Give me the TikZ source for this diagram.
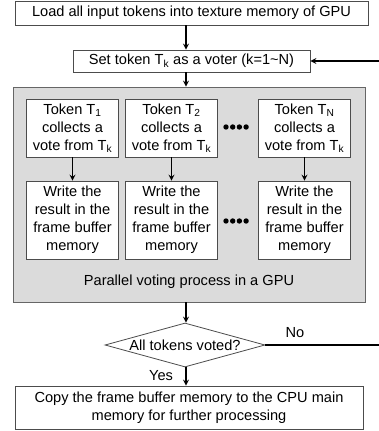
\documentclass[tikz,border=0pt]{standalone}
\usepackage{fontspec}
\setmainfont{Liberation Sans}
\usetikzlibrary{shapes.geometric}

\begin{document}
\begin{tikzpicture}[x=1pt, y=-1pt, >=stealth,
    font=\fontsize{14.6}{18}\selectfont,
    box/.style={draw=black!70, line width=0.8pt, fill=white, align=center, inner sep=2pt},
    flow/.style={->, line width=1.6pt}]
  \useasboundingbox (0,0) rectangle (379,431);
  \coordinate (axis) at (186,0);

  \node[box, minimum width=353, minimum height=24] (load) at (191.5,13) {Load all input tokens into texture memory of GPU};
  \node[box, minimum width=237, minimum height=22] (setk) at (191.5,61) {Set token T\textsubscript{k} as a voter (k=1\textasciitilde N)};

  % parallel part on the GPU
  \node[draw=black!60, line width=0.8pt, fill=black!14, minimum width=352, minimum height=215] (gpu) at (189,194.5) {};
  \node (gpulabel) at (189,282) {Parallel voting process in a GPU};
  \foreach \i/\x/\s in {1/72.5/1, 2/171.5/2, 3/304.5/N} {
    \node[box, minimum width=92, minimum height=58] (collect\i) at (\x,128) {Token T\textsubscript{\s}\\collects a\\vote from T\textsubscript{k}};
    \node[box, minimum width=92, minimum height=78] (write\i) at (\x,220) {Write the\\result in the\\frame buffer\\memory};
    \draw[flow] (collect\i) -- (write\i);
  }
  \foreach \y in {127,221}
    \foreach \d in {0,...,3}
      \fill (226+\d*6.7,\y) circle (2.7);

  \node[diamond, draw=black!70, line width=0.8pt, fill=white, minimum width=160, minimum height=44, inner sep=0pt,
    label=center:{All tokens voted?}] (check) at (185,345) {};
  \node[box, minimum width=348, minimum height=43] (copy) at (189,407.5) {Copy the frame buffer memory to the CPU main\\memory for further processing};

  \draw[flow] (load.south -| axis) -- (setk.north -| axis);
  \draw[flow] (setk.south -| axis) -- (gpu.north -| axis);
  \draw[flow] (gpu.south -| axis) -- (check.north -| axis);
  \draw[flow] (check.south -| axis) -- (copy.north -| axis);
  \node (yes) at (161,376) {Yes};

  % loop back for the next voter
  \coordinate (noend) at (379,345);
  \coordinate (back) at (379,61);
  \draw[line width=1.6pt] (check.east) -- (noend);
  \node (no) at (295,333) {No};
  \draw[flow] (back) -- (setk.east);
\end{tikzpicture}
\end{document}
